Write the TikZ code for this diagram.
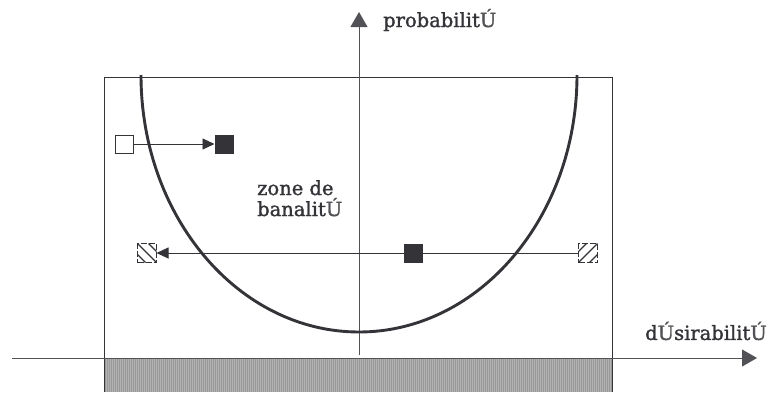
\documentclass[tikz,border=0pt]{standalone}
\usepackage{fontspec}
\newfontfamily\lblfont[FakeBold=1.5]{DejaVu Serif}
\usetikzlibrary{arrows.meta}
\definecolor{ink}{HTML}{333338}
\newcommand{\accU}{\textcolor{ink!85}{Ú}}
\begin{document}
\begin{tikzpicture}[x=1pt,y=-1pt,
  axis/.style={draw=ink!85,line width=0.9pt},
  thin/.style={draw=ink,line width=0.9pt},
  sq/.style={minimum size=18pt,inner sep=0pt,outer sep=0pt},
  whitesq/.style={sq,draw=ink,line width=0.7pt,fill=white},
  blacksq/.style={sq,minimum size=19pt,fill=ink},
  hatchsq/.style={sq,minimum size=19pt,draw=ink,line width=0.8pt,dash pattern=on 6pt off 2pt},
  lbl/.style={font=\lblfont\fontsize{19.5}{21}\selectfont,text=ink,inner sep=0pt,align=left},
  tip/.style={-{Triangle[length=12pt,width=11pt]}}
]
\useasboundingbox (0,0) rectangle (771,394);
% gray bar
\fill[gray!80] (104,358) rectangle (612,392);
\foreach \i in {106,108,...,610} \draw[gray!60,line width=0.5pt] (\i,359) -- (\i,392);
\draw[ink,line width=0.9pt] (104,392) -- (104,358) -- (612,358) -- (612,392);
% box
\draw[ink,line width=0.8pt] (104,358) -- (104,77) -- (612,77) -- (612,358);
% axes
\coordinate (xs) at (12,358);
\coordinate (xe) at (757,358);
\coordinate (ys) at (359,355);
\coordinate (ye) at (359,12);
\draw[axis,-{Triangle[length=15pt,width=17pt]}] (xs) -- (xe);
\draw[axis,-{Triangle[length=15pt,width=17pt]}] (ys) -- (ye);
% curve
\draw[ink,line width=2.9pt] (141,75) arc[start angle=180,end angle=0,x radius=218,y radius=257];
% labels
\node[lbl,anchor=west] (lp) at (383,20) {probabilit\accU};
\node[lbl,anchor=east] (ld) at (767,331) {d\accU sirabilit\accU};
\node[lbl,anchor=north west] (lz) at (257,180) {zone de\\banalit\accU};
% squares
\node[whitesq] (w1) at (124,144) {};
\node[blacksq] (b1) at (224,144) {};
\draw[thin,tip] (w1) -- (b1);
\node[hatchsq] (hl) at (147,253) {};
\node[hatchsq] (hr) at (588,253) {};
\begin{scope}
\clip (hl.south west) rectangle (hl.north east);
\foreach \d in {-11,0,11} \draw[ink,line width=1.3pt] ([xshift=\d pt]hl.north west) -- ([xshift=\d pt]hl.south east);
\end{scope}
\begin{scope}
\clip (hr.south west) rectangle (hr.north east);
\foreach \d in {-11,0,11} \draw[ink,line width=1.3pt] ([xshift=\d pt]hr.south west) -- ([xshift=\d pt]hr.north east);
\end{scope}
\draw[thin,tip] (hr) -- (hl);
\node[blacksq] (b2) at (413,253) {};
\end{tikzpicture}
\end{document}
